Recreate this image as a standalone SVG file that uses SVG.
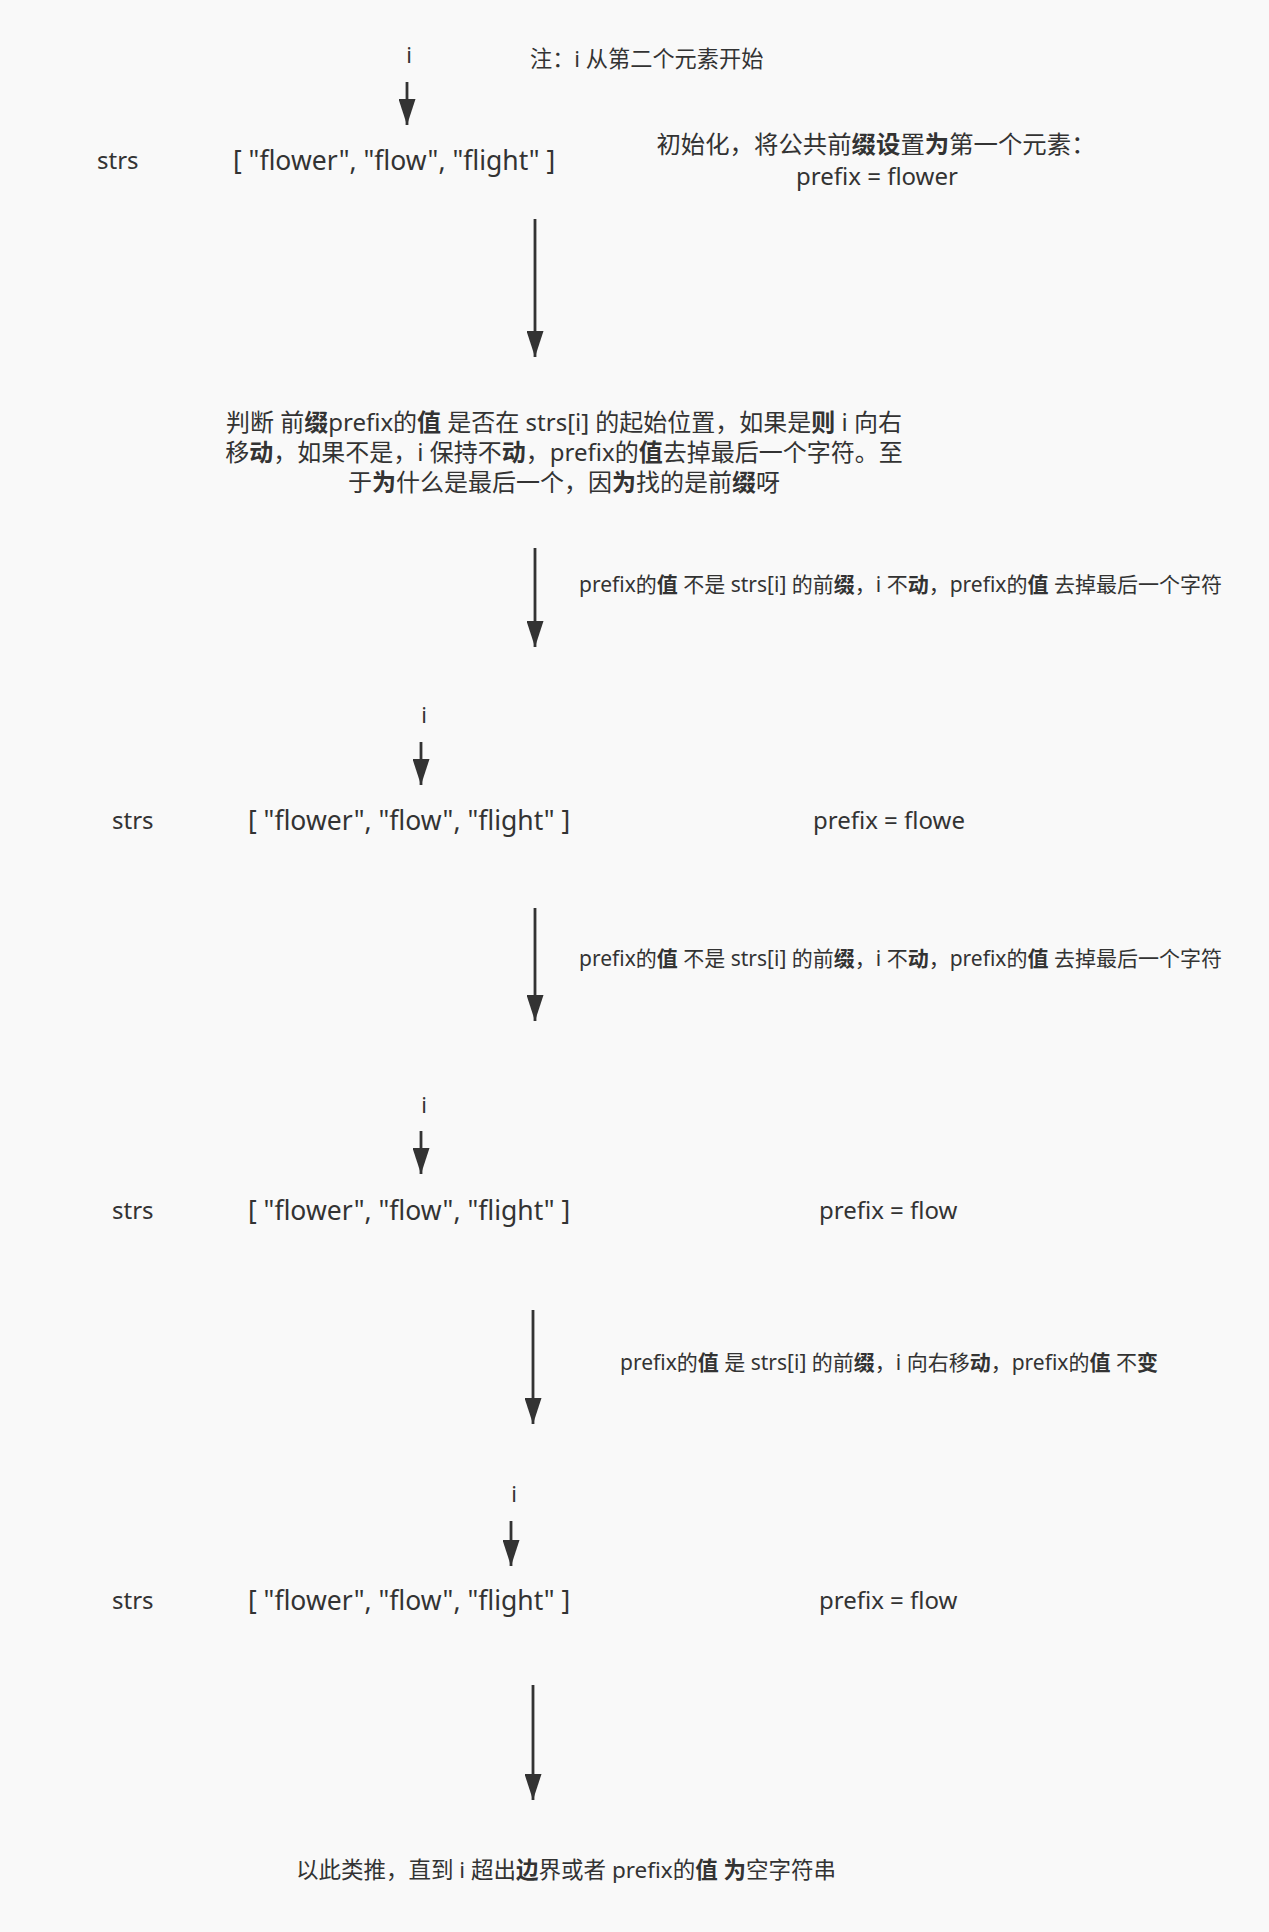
<svg xmlns="http://www.w3.org/2000/svg" width="1269" height="1932" viewBox="0 0 1269 1932">
<defs>
<style>
text{font-family:"Noto Sans","Noto Sans CJK SC",sans-serif;fill:#333;}
.i{font-size:22px;text-anchor:middle;}
.strs{font-size:24px;}
.arr{font-size:26.5px;}
.note{font-size:22.2px;}
.fin{font-size:22.5px;}
.big{font-size:24px;}
.init{font-size:24.4px;}
.lbl{font-size:21px;}
.b{font-weight:bold;}
.c{text-anchor:middle;}
line{stroke:#333;stroke-width:2.8;}
</style>
<marker id="ahs" viewBox="0 0 10 10" refX="10" refY="5" markerWidth="26" markerHeight="17" markerUnits="userSpaceOnUse" orient="auto" preserveAspectRatio="none">
<path d="M0,0 L10,5 L0,10 Z" fill="#333"/>
</marker>
</defs>
<rect width="1269" height="1932" fill="#f9f9f9"/>
<g id="connectors">
<line x1="407" y1="82" x2="407" y2="125" marker-end="url(#ahs)"/>
<line x1="535" y1="219" x2="535" y2="357" marker-end="url(#ahs)"/>
<line x1="535" y1="548" x2="535" y2="647" marker-end="url(#ahs)"/>
<line x1="421" y1="742" x2="421" y2="785" marker-end="url(#ahs)"/>
<line x1="535" y1="908" x2="535" y2="1021" marker-end="url(#ahs)"/>
<line x1="421" y1="1131" x2="421" y2="1174" marker-end="url(#ahs)"/>
<line x1="533" y1="1310" x2="533" y2="1424" marker-end="url(#ahs)"/>
<line x1="511" y1="1521" x2="511" y2="1566" marker-end="url(#ahs)"/>
<line x1="533" y1="1685" x2="533" y2="1800" marker-end="url(#ahs)"/>
</g>
<g id="step1">
<text class="i" x="409" y="63">i</text>
<text class="note" x="530" y="67">注：i 从第二个元素开始</text>
<text class="strs" x="97" y="169">strs</text>
<text class="arr" x="233" y="170">[ "flower", "flow", "flight" ]</text>
<text class="init c" x="876" y="153">初始化，将公共前<tspan class="b">缀设</tspan>置<tspan class="b">为</tspan>第一个元素：</text>
<text class="big c" x="877" y="185">prefix = flower</text>
</g>
<g id="rule">
<text class="big c" x="564" y="431">判断 前<tspan class="b">缀</tspan>prefix的<tspan class="b">值</tspan> 是否在 strs[i] 的起始位置，如果是<tspan class="b">则</tspan> i 向右</text>
<text class="big c" x="564" y="461">移<tspan class="b">动</tspan>，如果不是，i 保持不<tspan class="b">动</tspan>，prefix的<tspan class="b">值</tspan>去掉最后一个字符。至</text>
<text class="big c" x="564" y="491">于<tspan class="b">为</tspan>什么是最后一个，因<tspan class="b">为</tspan>找的是前<tspan class="b">缀</tspan>呀</text>
</g>
<g id="label1"><text class="lbl" x="579" y="592">prefix的<tspan class="b">值</tspan> 不是 strs[i] 的前<tspan class="b">缀</tspan>，i 不<tspan class="b">动</tspan>，prefix的<tspan class="b">值</tspan> 去掉最后一个字符</text></g>
<g id="step2">
<text class="i" x="424" y="723">i</text>
<text class="strs" x="112" y="829">strs</text>
<text class="arr" x="248" y="830">[ "flower", "flow", "flight" ]</text>
<text class="big" x="813" y="829">prefix = flowe</text>
</g>
<g id="label2"><text class="lbl" x="579" y="966">prefix的<tspan class="b">值</tspan> 不是 strs[i] 的前<tspan class="b">缀</tspan>，i 不<tspan class="b">动</tspan>，prefix的<tspan class="b">值</tspan> 去掉最后一个字符</text></g>
<g id="step3">
<text class="i" x="424" y="1113">i</text>
<text class="strs" x="112" y="1219">strs</text>
<text class="arr" x="248" y="1220">[ "flower", "flow", "flight" ]</text>
<text class="big" x="819" y="1219">prefix = flow</text>
</g>
<g id="label3"><text class="lbl" x="620" y="1370">prefix的<tspan class="b">值</tspan> 是 strs[i] 的前<tspan class="b">缀</tspan>，i 向右移<tspan class="b">动</tspan>，prefix的<tspan class="b">值</tspan> 不<tspan class="b">变</tspan></text></g>
<g id="step4">
<text class="i" x="514" y="1502">i</text>
<text class="strs" x="112" y="1609">strs</text>
<text class="arr" x="248" y="1610">[ "flower", "flow", "flight" ]</text>
<text class="big" x="819" y="1609">prefix = flow</text>
</g>
<g id="final"><text class="fin" x="296" y="1878">以此类推，直到 i 超出<tspan class="b">边</tspan>界或者 prefix的<tspan class="b">值</tspan> <tspan class="b">为</tspan>空字符串</text></g>
</svg>
